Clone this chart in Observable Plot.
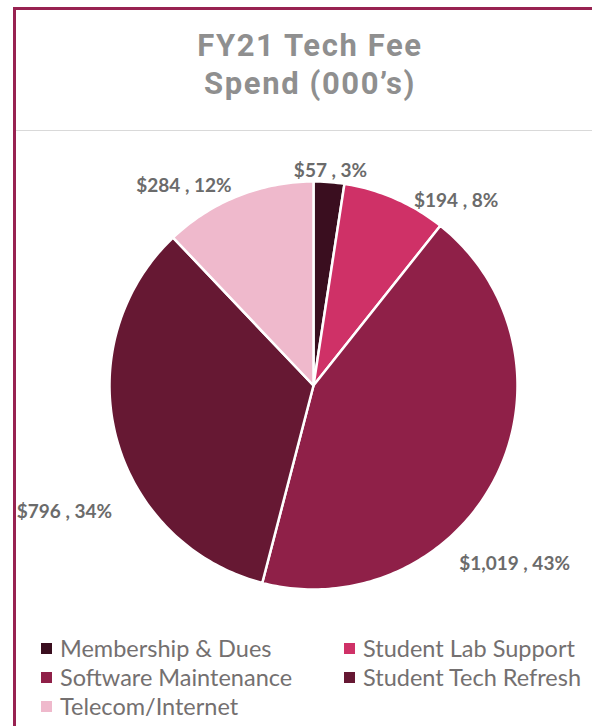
<!DOCTYPE html>
<html>
<head>
<meta charset="utf-8">
<script src="https://cdn.jsdelivr.net/npm/d3@7"></script>
<script src="https://cdn.jsdelivr.net/npm/@observablehq/plot@0.6"></script>
<style>
  html, body { margin: 0; padding: 0; width: 592px; height: 726px; overflow: hidden; background: #fff; }
  #frame { position: absolute; left: 13px; top: 7px; width: 700px; height: 800px;
           border-left: 3px solid #982251; border-top: 3px solid #982251; box-sizing: border-box; }
  #rule { position: absolute; left: 16px; top: 130px; width: 600px; height: 1px; background: #d9d9d9; }
  .tl { position: absolute; left: 0; width: 620px; text-align: center; height: 36px;
        font-family: Roboto, sans-serif; font-weight: 700; font-size: 31px; line-height: 36px;
        color: #8f8f8f; letter-spacing: 1.6px; white-space: nowrap; }
  #chart { position: absolute; left: 0; top: 132px; }
  #legend { position: absolute; left: 0; top: 0; font-family: Lato, sans-serif; font-size: 23.5px; color: #747070; }
  .item { position: absolute; white-space: nowrap; height: 29px; display: flex; align-items: center; }
  .sw { display: inline-block; width: 11px; height: 11px; margin-right: 8px; }
</style>
</head>
<body>
<div id="frame"></div>
<div id="rule"></div>
<div class="tl" style="top:28px">FY21 Tech Fee</div>
<div class="tl" style="top:66px">Spend (000’s)</div>
<div id="chart"></div>
<div id="legend"></div>
<script>
// ---- data ----
const categories = ["Membership & Dues", "Student Lab Support", "Software Maintenance", "Student Tech Refresh", "Telecom/Internet"];
const values = [57, 194, 1019, 796, 284];
const percents = [3, 8, 43, 34, 12];
const colors = ["#3a0e1f", "#cf3167", "#8f2048", "#661833", "#efb9cc"];

// ---- label layout (pixel nudges from slice edge at mid-angle) ----
const labelNudgeX = [1.5, 61, 18.5, -51.5, -54];
const labelNudgeY = [-11.5, 2, 87, 75, -10.5];

const pie = d3.pie().sort(null).value(d => d.value);
const rows = categories.map((c, i) => ({category: c, value: values[i], pct: percents[i], i}));
const arcs = pie(rows);

// slice polygons in unit-circle data space (y up)
const polys = [];
arcs.forEach(a => {
  polys.push({category: a.data.category, x: 0, y: 0});
  const n = Math.max(2, Math.ceil((a.endAngle - a.startAngle) / (Math.PI / 180)));
  for (let k = 0; k <= n; k++) {
    const t = a.startAngle + (a.endAngle - a.startAngle) * k / n;
    polys.push({category: a.data.category, x: Math.sin(t), y: Math.cos(t)});
  }
});

const labels = arcs.map(a => {
  const m = (a.startAngle + a.endAngle) / 2;
  return {
    x: Math.sin(m), y: Math.cos(m),
    dx: labelNudgeX[a.data.i], dy: labelNudgeY[a.data.i],
    text: "$" + d3.format(",")(a.data.value) + " , " + a.data.pct + "%"
  };
});

const cx = 313, cy = 253, R = 204;
const plot = Plot.plot({
  width: 592, height: 484,
  margin: 0,
  x: {domain: [-1, 1], range: [cx - R, cx + R], axis: null},
  y: {domain: [-1, 1], range: [cy + R, cy - R], axis: null},
  color: {domain: categories, range: colors},
  style: {background: "transparent", overflow: "visible"},
  marks: [
    Plot.line(polys, {x: "x", y: "y", z: "category", fill: "category", stroke: "#fff",
                      strokeWidth: 2.5, strokeLinejoin: "round", curve: "linear-closed"}),
    ...labels.map(l => Plot.text([l], {x: "x", y: "y", text: "text", dx: l.dx, dy: l.dy,
                      fontFamily: "Lato, sans-serif", fontWeight: 700, fontSize: 19, fill: "#6b6b6b"}))
  ]
});
document.getElementById("chart").appendChild(plot);

// legend
const legendPos = [[41, 648], [344, 648], [41, 677], [344, 677], [41, 706]];
const leg = document.getElementById("legend");
categories.forEach((c, i) => {
  const d = document.createElement("div");
  d.className = "item";
  d.style.left = legendPos[i][0] + "px";
  d.style.top = (legendPos[i][1] - 14.5) + "px";
  d.innerHTML = `<span class="sw" style="background:${colors[i]}"></span><span>${c}</span>`;
  leg.appendChild(d);
});
</script>
</body>
</html>
